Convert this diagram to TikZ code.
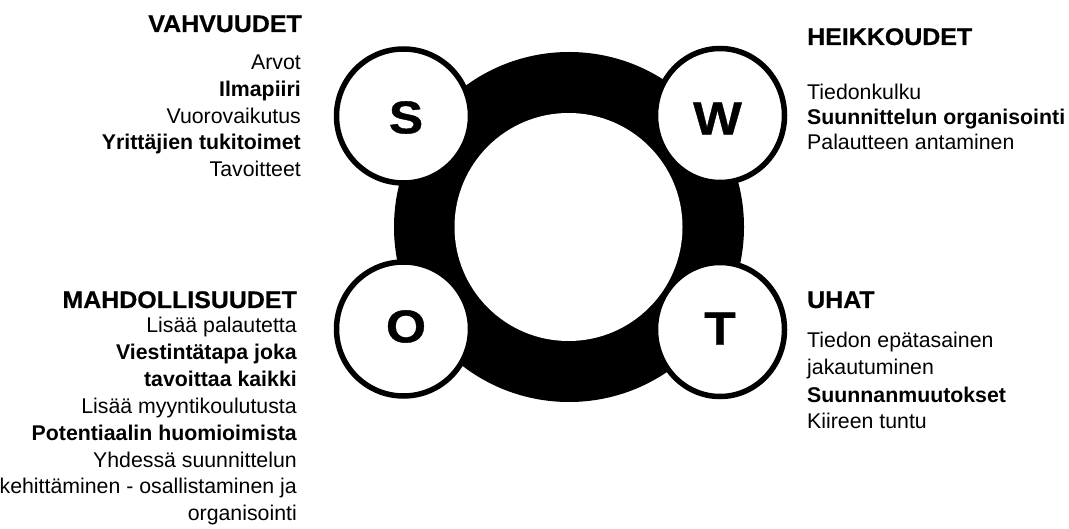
\documentclass[tikz,border=0pt]{standalone}
\usepackage{fontspec}
\setmainfont{Liberation Sans}
\newfontfamily\headfont{Liberation Sans}[FakeStretch=1.04, BoldFeatures={FakeBold=0.6}]
\newfontfamily\letterfont{Liberation Sans}[FakeStretch=1.12, BoldFeatures={FakeBold=0.8}]
\usetikzlibrary{shapes.geometric}
\begin{document}
\begin{tikzpicture}[x=1bp,y=-1bp,
  head/.style={inner sep=0pt, font=\headfont\fontsize{24bp}{27bp}\selectfont\bfseries},
  body/.style={inner sep=0pt, font=\fontsize{21.3bp}{27bp}\selectfont},
  bodyb/.style={inner sep=0pt, font=\fontsize{21.3bp}{27bp}\selectfont\bfseries},
  letter/.style={inner sep=0pt, font=\letterfont\fontsize{46bp}{50bp}\selectfont\bfseries},
  bubble/.style={draw=black, line width=5.5bp, fill=white, ellipse, inner sep=0pt},
  ]
\useasboundingbox (0,0) rectangle (1069,529);
% ring
\node[circle, fill=black, minimum size=350bp, inner sep=0pt] (ring) at (569,227) {};
\node[circle, fill=white, minimum size=228bp, inner sep=0pt] (hole) at (568.5,227) {};
% bubbles
\node[bubble, minimum width=134bp, minimum height=134bp] (S) at (403.5,116) {};
\node[bubble, minimum width=134bp, minimum height=134bp] (O) at (403.5,329) {};
\node[bubble, minimum width=129bp, minimum height=134bp] (W) at (720,115.5) {};
\node[bubble, minimum width=129bp, minimum height=134bp] (T) at (720,329.5) {};
\node[letter] (Sl) at (406,117.5) {S};
\node[letter] (Wl) at (717.5,118.5) {W};
\node[letter] (Ol) at (406,326.5) {O};
\node[letter] (Tl) at (720,328.5) {T};
% strengths
\node[head, anchor=base east] (sh) at (302,32) {VAHVUUDET};
\foreach \t/\y/\f [count=\i] in {Arvot/70/body, Ilmapiiri/97/bodyb, Vuorovaikutus/123.5/body,
  Yrittäjien tukitoimet/150/bodyb, Tavoitteet/177/body}
  \node[\f, anchor=base east] (s\i) at (301,\y) {\t};
% opportunities
\node[head, anchor=base east] (oh) at (297,308) {MAHDOLLISUUDET};
\foreach \t/\y/\f [count=\i] in {Lisää palautetta/333/body, Viestintätapa joka/360/bodyb,
  tavoittaa kaikki/387/bodyb, Lisää myyntikoulutusta/413/body,
  Potentiaalin huomioimista/440/bodyb, Yhdessä suunnittelun/467/body,
  kehittäminen - osallistaminen ja/493/body, organisointi/520/body}
  \node[\f, anchor=base east] (o\i) at (297,\y) {\t};
% weaknesses
\node[head, anchor=base west] (wh) at (807,45) {HEIKKOUDET};
\foreach \t/\y/\f [count=\i] in {Tiedonkulku/100/body, Suunnittelun organisointi/125/bodyb,
  Palautteen antaminen/150/body}
  \node[\f, anchor=base west] (w\i) at (807,\y) {\t};
% threats
\node[head, anchor=base west] (th) at (807,308) {UHAT};
\foreach \t/\y/\f [count=\i] in {Tiedon epätasainen/348/body, jakautuminen/375/body,
  Suunnanmuutokset/402/bodyb, Kiireen tuntu/428/body}
  \node[\f, anchor=base west] (t\i) at (807,\y) {\t};
\end{tikzpicture}
\end{document}
